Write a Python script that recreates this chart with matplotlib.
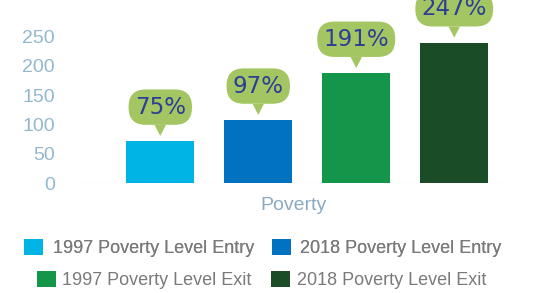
import matplotlib
matplotlib.use("Agg")
import matplotlib.pyplot as plt
from matplotlib.patches import Patch

series = ["1997 Poverty Level Entry", "2018 Poverty Level Entry",
          "1997 Poverty Level Exit", "2018 Poverty Level Exit"]
values = [72, 108, 188, 240]
bubble_labels = ["75%", "97%", "191%", "247%"]
colors = ["#00b5e6", "#0072bf", "#13964a", "#1b4c28"]
category = "Poverty"
yticks = [0, 50, 100, 150, 200, 250]

fig = plt.figure(figsize=(5.55, 2.93), dpi=100)
ax = fig.add_axes([0.144, 0.3754, 0.768, 0.4994])

x = list(range(len(values)))
ax.bar(x, values, width=0.69, color=colors, zorder=2)
ax.set_xlim(-0.82, 3.53)
ax.set_ylim(0, 250)
ax.set_yticks(yticks)
ax.set_yticklabels([str(t) for t in yticks], fontsize=14, color="#93b8cd",
                   family="Liberation Sans")
ax.set_xticks([])
ax.tick_params(axis="y", length=0, pad=18)
for s in ax.spines.values():
    s.set_visible(False)
ax.axhline(0, color="#eef3f7", lw=1, zorder=1)
ax.set_xlabel(category, fontsize=14, color="#8aaac4", family="Liberation Sans",
              labelpad=10)

green = "#a3c662"
for xi, v, lab in zip(x, values, bubble_labels):
    ax.annotate(lab, xy=(xi, v), xytext=(0, 16), textcoords="offset points",
                ha="center", va="bottom", fontsize=16.5, color="#2d3e96",
                family="DejaVu Sans", annotation_clip=False, zorder=5,
                bbox=dict(boxstyle="round,pad=0.27,rounding_size=0.75",
                          fc=green, ec="none"),
                arrowprops=dict(arrowstyle="wedge,tail_width=0.5,shrink_factor=0.5",
                                fc=green, ec="none", shrinkA=0, shrinkB=3.5))

handles = [Patch(facecolor=c, edgecolor="none") for c in colors]
common = dict(loc="center", ncol=2, frameon=False,
              prop=dict(family="Liberation Sans", size=13),
              labelcolor="#7a7a7a", handlelength=1.05, handleheight=1.05,
              borderpad=0, borderaxespad=0)
leg1 = fig.legend([handles[0], handles[1]], [series[0], series[1]],
                  bbox_to_anchor=(263 / 555, (293 - 248) / 293),
                  handletextpad=0.55, columnspacing=0.95, **common)
fig.add_artist(leg1)
fig.legend([handles[2], handles[3]], [series[2], series[3]],
           bbox_to_anchor=(261.5 / 555, (293 - 280) / 293),
           handletextpad=0.35, columnspacing=1.1, **common)

fig.savefig("out.png", dpi=100)
